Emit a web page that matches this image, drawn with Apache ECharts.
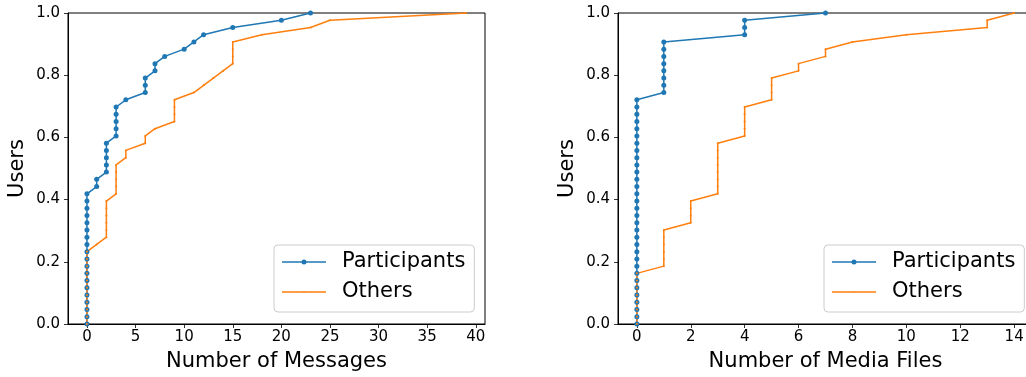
<!DOCTYPE html>
<html>
<head>
<meta charset="utf-8">
<script src="https://cdn.jsdelivr.net/npm/echarts@6/dist/echarts.min.js"></script>
<style>
  html, body { margin: 0; padding: 0; background: #fff; }
  #chart { width: 1026px; height: 377px; }
</style>
</head>
<body>
<div id="chart"></div>
<script>
// per-user counts, sorted (44 users per group)
var participantsMessages = [0,0,0,0,0,0,0,0,0,0,0,0,0,0,0,0,0,0,0, 1,1, 2,2,2,2,2, 3,3,3,3,3, 4, 6,6,6, 7,7, 8, 10, 11, 12, 15, 20, 23];
var othersMessages = [0,0,0,0,0,0,0,0,0,0,0, 1, 2,2,2,2,2,2, 3,3,3,3,3, 4,4, 6,6, 7, 9,9,9,9, 11, 12, 13, 14, 15,15,15,15, 18, 23, 25, 39];
var participantsMedia = [0,0,0,0,0,0,0,0,0,0,0,0,0,0,0,0,0,0,0,0,0,0,0,0,0,0,0,0,0,0,0,0, 1,1,1,1,1,1,1,1, 4,4,4, 7];
var othersMedia = [0,0,0,0,0,0,0,0, 1,1,1,1,1,1, 2,2,2,2, 3,3,3,3,3,3,3,3, 4,4,4,4,4, 5,5,5,5, 6,6, 7,7, 8, 10, 13,13, 14];

var messageTicks = [0, 5, 10, 15, 20, 25, 30, 35, 40];
var mediaTicks = [0, 2, 4, 6, 8, 10, 12, 14];
var userTicks = [0, 0.2, 0.4, 0.6, 0.8, 1.0];

var BLUE = '#1f77b4';
var ORANGE = '#ff7f0e';
var FONT = 'DejaVu Sans';

// legend handles: a line with a dot in the middle (same winding so the dot stays filled)
var bigDotIcon = 'path://M0,1.75L44,1.75L44,3.25L0,3.25Z M19.5,2.5A2.5,2.5 0 1,1 24.5,2.5A2.5,2.5 0 1,1 19.5,2.5Z M0,0L0.01,0L0.01,5L0,5Z';
var smallDotIcon = 'path://M0,1.75L44,1.75L44,3.25L0,3.25Z M21,2.5A1,1 0 1,1 23,2.5A1,1 0 1,1 21,2.5Z M0,0L0.01,0L0.01,5L0,5Z';

// empirical cdf: sorted value vs fraction of users
function cdf(values) {
  var n = values.length;
  return values.map(function (v, i) { return [v, i / (n - 1)]; });
}

function xAxisFor(idx, min, max, ticks, title) {
  return {
    type: 'value', gridIndex: idx, min: min, max: max,
    name: title, nameLocation: 'middle', nameGap: 27,
    nameTextStyle: { fontFamily: FONT, fontSize: 21, color: '#000' },
    axisLine: { show: true, onZero: false, lineStyle: { color: '#000', width: 1 } },
    axisTick: { show: true, inside: false, length: 4, customValues: ticks, lineStyle: { color: '#000', width: 0.8 } },
    axisLabel: { customValues: ticks, margin: 6, fontFamily: FONT, fontSize: 15, color: '#000' },
    splitLine: { show: false }
  };
}

function yAxisFor(idx) {
  return {
    type: 'value', gridIndex: idx, min: 0, max: 1,
    name: 'Users', nameLocation: 'middle', nameGap: 40,
    nameTextStyle: { fontFamily: FONT, fontSize: 21, color: '#000' },
    axisLine: { show: true, onZero: false, lineStyle: { color: '#000', width: 1 } },
    axisTick: { show: true, inside: false, length: 4, customValues: userTicks, lineStyle: { color: '#000', width: 0.8 } },
    axisLabel: {
      customValues: userTicks, margin: 8, fontFamily: FONT, fontSize: 15, color: '#000',
      formatter: function (v) { return v.toFixed(1); }
    },
    splitLine: { show: false }
  };
}

function seriesFor(name, idx, values, color, size) {
  return {
    name: name, type: 'line', xAxisIndex: idx, yAxisIndex: idx,
    data: cdf(values),
    symbol: 'circle', symbolSize: size, showSymbol: true,
    lineStyle: { color: color, width: 1.5 },
    itemStyle: { color: color, borderWidth: 0 },
    emphasis: { disabled: true },
    clip: false
  };
}

function legendAt(left) {
  return {
    left: left, top: 245, orient: 'vertical',
    data: [
      { name: 'Participants', icon: bigDotIcon },
      { name: 'Others', icon: smallDotIcon }
    ],
    itemWidth: 44, itemHeight: 5, itemGap: 8,
    padding: [6, 9, 9, 8],
    borderColor: '#cccccc', borderWidth: 1, borderRadius: 4,
    backgroundColor: 'rgba(255,255,255,0.8)',
    textStyle: { fontFamily: FONT, fontSize: 21, color: '#000', lineHeight: 22, padding: [0, 0, 0, 11] }
  };
}

var chart = echarts.init(document.getElementById('chart'));
chart.setOption({
  animation: false,
  backgroundColor: '#fff',
  grid: [
    { left: 68, top: 13, width: 417, height: 311, show: true, borderColor: '#000', borderWidth: 1, outerBoundsMode: 'none' },
    { left: 618, top: 13, width: 415, height: 311, show: true, borderColor: '#000', borderWidth: 1, outerBoundsMode: 'none' }
  ],
  xAxis: [
    xAxisFor(0, -1.95, 40.95, messageTicks, 'Number of Messages'),
    xAxisFor(1, -0.7, 14.7, mediaTicks, 'Number of Media Files')
  ],
  yAxis: [yAxisFor(0), yAxisFor(1)],
  legend: [legendAt(274), legendAt(824)],
  series: [
    seriesFor('Participants', 0, participantsMessages, BLUE, 5),
    seriesFor('Others', 0, othersMessages, ORANGE, 2),
    seriesFor('Participants', 1, participantsMedia, BLUE, 5),
    seriesFor('Others', 1, othersMedia, ORANGE, 2)
  ]
});
</script>
</body>
</html>
